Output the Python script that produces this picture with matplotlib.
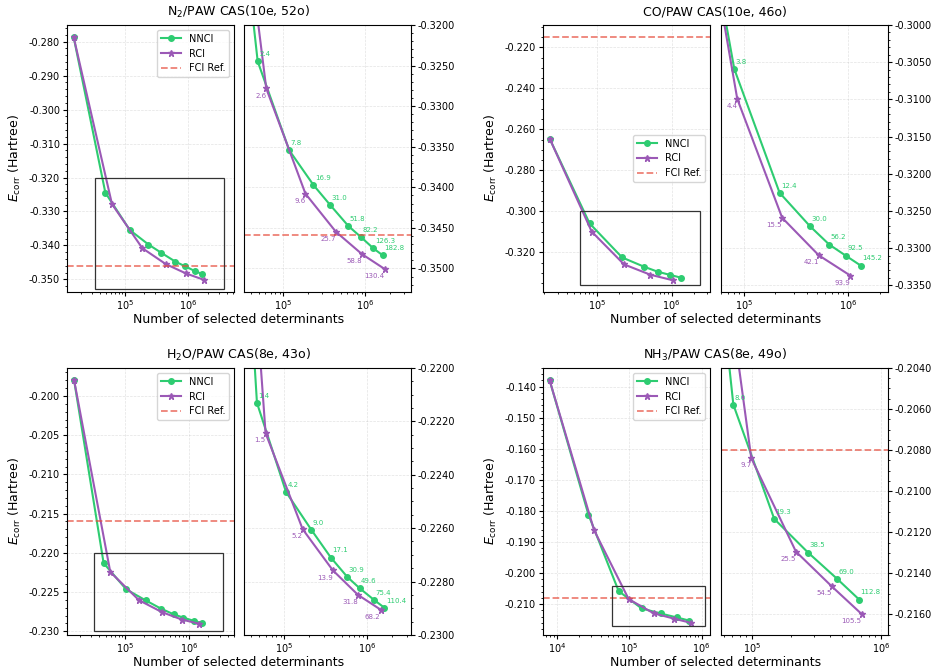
import matplotlib
matplotlib.use('Agg')
import matplotlib.pyplot as plt
from matplotlib.patches import Rectangle
from matplotlib.ticker import FormatStrFormatter, AutoMinorLocator, LogLocator

# ---- data ---------------------------------------------------------------
# N2 / PAW CAS(10e, 52o)
n2_nnci_x = [1.53e4, 4.85e4, 1.18e5, 2.33e5, 3.70e5, 6.22e5, 8.86e5, 1.26e6, 1.64e6]
n2_nnci_y = [-0.2787, -0.32448, -0.33545, -0.33972, -0.34214, -0.34477, -0.34613, -0.34753, -0.34839]
n2_nnci_t = [2.4, 7.8, 16.9, 31.0, 51.8, 82.2, 126.3, 182.8]
n2_rci_x = [1.53e4, 6.17e4, 1.86e5, 4.37e5, 9.11e5, 1.73e6]
n2_rci_y = [-0.2787, -0.32781, -0.34079, -0.34547, -0.34823, -0.35007]
n2_rci_t = [2.6, 9.6, 25.7, 58.8, 130.4]
n2_fci = -0.3459

# CO / PAW CAS(10e, 46o)
co_nnci_x = [2.38e4, 8.05e4, 2.19e5, 4.29e5, 6.57e5, 9.44e5, 1.32e6]
co_nnci_y = [-0.2649, -0.30593, -0.32255, -0.32705, -0.32952, -0.33100, -0.33235]
co_nnci_t = [3.8, 12.4, 30.0, 56.2, 92.5, 145.2]
co_rci_x = [2.38e4, 8.59e4, 2.32e5, 5.21e5, 1.05e6]
co_rci_y = [-0.2649, -0.30993, -0.32592, -0.33096, -0.33370]
co_rci_t = [4.4, 15.5, 42.1, 93.9]
co_fci = -0.2148

# H2O / PAW CAS(8e, 43o)
h2o_nnci_x = [1.61e4, 4.66e4, 1.047e5, 2.11e5, 3.63e5, 5.75e5, 8.09e5, 1.21e6, 1.61e6]
h2o_nnci_y = [-0.19795, -0.22131, -0.22465, -0.22606, -0.22710, -0.22783, -0.22825, -0.22869, -0.22898]
h2o_nnci_t = [1.4, 4.2, 9.0, 17.1, 30.9, 49.6, 75.4, 110.4]
h2o_rci_x = [1.61e4, 5.92e4, 1.66e5, 3.84e5, 7.73e5, 1.445e6]
h2o_rci_y = [-0.19795, -0.22244, -0.22604, -0.22758, -0.22850, -0.22905]
h2o_rci_t = [1.5, 5.2, 13.9, 31.8, 68.2]
h2o_fci = -0.2160

# NH3 / PAW CAS(8e, 49o)
nh3_nnci_x = [7.9e3, 2.72e4, 7.13e4, 1.48e5, 2.71e5, 4.54e5, 6.76e5]
nh3_nnci_y = [-0.13796, -0.18116, -0.20579, -0.21135, -0.21299, -0.21426, -0.21528]
nh3_nnci_t = [8.0, 19.3, 38.5, 69.0, 112.8]
nh3_rci_x = [7.9e3, 3.26e4, 9.82e4, 2.18e5, 4.13e5, 7.05e5]
nh3_rci_y = [-0.13796, -0.18620, -0.20839, -0.21294, -0.21463, -0.21598]
nh3_rci_t = [9.7, 25.5, 54.5, 105.5]
nh3_fci = -0.2080

GREEN = '#2ecc71'
PURPLE = '#9b59b6'
RED = '#e74c3c'

panels = [
    dict(title=r'N$_2$/PAW CAS(10e, 52o)',
         nnci=(n2_nnci_x, n2_nnci_y, n2_nnci_t), rci=(n2_rci_x, n2_rci_y, n2_rci_t), fci=n2_fci,
         xlim=(1.2e4, 5.2e6), ylim=(-0.3537, -0.2751),
         zx=(3.3e4, 3.6e6), zy=(-0.3529, -0.3200), loc='upper right',
         main=[0.0715, 0.5648], zoom=[0.2604, 0.5648]),
    dict(title='CO/PAW CAS(10e, 46o)',
         nnci=(co_nnci_x, co_nnci_y, co_nnci_t), rci=(co_rci_x, co_rci_y, co_rci_t), fci=co_fci,
         xlim=(1.92e4, 3.24e6), ylim=(-0.3394, -0.2091),
         zx=(6.0e4, 2.4e6), zy=(-0.3359, -0.3000), loc='center right',
         main=[0.5795, 0.5648], zoom=[0.7695, 0.5648]),
    dict(title=r'H$_2$O/PAW CAS(8e, 43o)',
         nnci=(h2o_nnci_x, h2o_nnci_y, h2o_nnci_t), rci=(h2o_rci_x, h2o_rci_y, h2o_rci_t), fci=h2o_fci,
         xlim=(1.25e4, 5.0e6), ylim=(-0.23047, -0.19642),
         zx=(3.25e4, 3.35e6), zy=(-0.2300, -0.2200), loc='upper right',
         main=[0.0715, 0.0537], zoom=[0.2604, 0.0537]),
    dict(title=r'NH$_3$/PAW CAS(8e, 49o)',
         nnci=(nh3_nnci_x, nh3_nnci_y, nh3_nnci_t), rci=(nh3_rci_x, nh3_rci_y, nh3_rci_t), fci=nh3_fci,
         xlim=(6.4e3, 1.3e6), ylim=(-0.2199, -0.1340),
         zx=(5.72e4, 1.126e6), zy=(-0.2170, -0.2040), loc='upper right',
         main=[0.5795, 0.0537], zoom=[0.7695, 0.0537]),
]

W, H = 0.178, 0.398

fig = plt.figure(figsize=(9.37, 6.71), dpi=100)


def style_axis(ax, fmt):
    ax.set_xscale('log')
    ax.xaxis.set_major_locator(LogLocator(base=10))
    ax.yaxis.set_major_formatter(FormatStrFormatter(fmt))
    ax.yaxis.set_minor_locator(AutoMinorLocator())
    ax.tick_params(labelsize=7, length=3, pad=2)
    ax.tick_params(axis='x', pad=1.5)
    ax.tick_params(which='minor', length=1.6)
    ax.grid(True, which='major', linestyle='--', linewidth=0.5, alpha=0.35)


def draw_lines(ax, p):
    nx, ny, _ = p['nnci']
    rx, ry, _ = p['rci']
    ax.plot(nx, ny, '-o', color=GREEN, lw=1.5, ms=4, label='NNCI')
    ax.plot(rx, ry, '-*', color=PURPLE, lw=1.5, ms=5, label='RCI')
    ax.axhline(p['fci'], color=RED, ls='--', lw=1.3, alpha=0.7, label='FCI Ref.')


for p in panels:
    ax = fig.add_axes([p['main'][0], p['main'][1], W, H])
    az = fig.add_axes([p['zoom'][0], p['zoom'][1], W, H])

    # main panel
    draw_lines(ax, p)
    style_axis(ax, '%.3f')
    ax.set_xlim(*p['xlim'])
    ax.set_ylim(*p['ylim'])
    ax.add_patch(Rectangle((p['zx'][0], p['zy'][0]), p['zx'][1] - p['zx'][0], p['zy'][1] - p['zy'][0],
                           fill=False, edgecolor='#333333', lw=0.9, zorder=5))
    ax.legend(loc=p['loc'], fontsize=7)
    ax.set_ylabel(r'$E_{\rm corr}$ (Hartree)', fontsize=9)

    # zoom panel
    draw_lines(az, p)
    style_axis(az, '%.4f')
    az.set_xlim(*p['zx'])
    az.set_ylim(*p['zy'])
    az.yaxis.tick_right()
    az.yaxis.set_label_position('right')

    nx, ny, nt = p['nnci']
    for x, y, t in zip(nx[-len(nt):], ny[-len(nt):], nt):
        az.annotate('%.1f' % t, (x, y), xytext=(1, 3), textcoords='offset points',
                    ha='left', va='bottom', fontsize=5, color=GREEN)
    rx, ry, rt = p['rci']
    for x, y, t in zip(rx[-len(rt):], ry[-len(rt):], rt):
        az.annotate('%.1f' % t, (x, y), xytext=(0, -3), textcoords='offset points',
                    ha='right', va='top', fontsize=5, color=PURPLE)

    cx = p['main'][0] + (p['zoom'][0] + W - p['main'][0]) / 2
    top = p['main'][1] + H
    fig.text(cx, top + 0.019, p['title'], ha='center', va='center', fontsize=9)
    fig.text(cx, p['main'][1] - 0.0465, 'Number of selected determinants',
             ha='center', va='baseline', fontsize=9)

fig.savefig('out.png', dpi=100)
